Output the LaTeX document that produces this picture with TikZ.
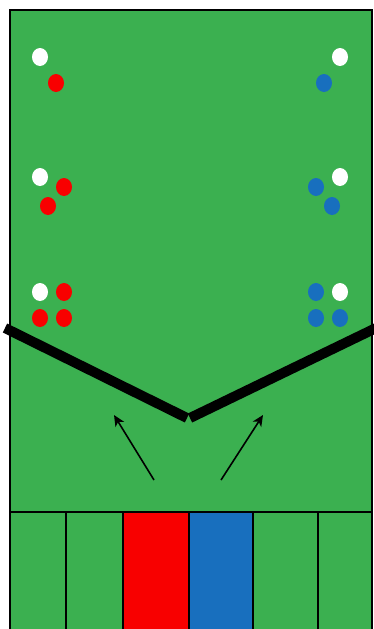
\documentclass[tikz,border=0pt]{standalone}
\usetikzlibrary{arrows.meta}
\definecolor{field}{RGB}{59,176,80}
\definecolor{redp}{RGB}{248,0,0}
\definecolor{bluep}{RGB}{24,111,190}
\tikzset{
  dot/.style={ellipse,inner sep=0pt,minimum width=16pt,minimum height=18pt,draw=none},
  wdot/.style={dot,fill=white},
  rdot/.style={dot,fill=redp},
  bdot/.style={dot,fill=bluep},
  lane/.style={draw=black,line width=1.5pt,inner sep=0pt,anchor=north west},
  wall/.style={line width=10pt,black},
  move/.style={line width=1.6pt,-{Stealth[length=11pt,width=10pt,inset=3pt]}}
}
\usetikzlibrary{shapes.geometric}
\begin{document}
\begin{tikzpicture}[x=1pt,y=-1pt]
\useasboundingbox (0,0) rectangle (373,629);
\fill[white] (0,0) rectangle (373,629);
\node[draw=black,line width=1.5pt,fill=field,inner sep=0pt,anchor=north west,minimum width=362pt,minimum height=625pt] (fieldbox) at (9,9) {};
% lanes
\node[lane,fill=field,minimum width=56pt,minimum height=120pt] (l1) at (9,511) {};
\node[lane,fill=field,minimum width=57pt,minimum height=120pt] (l2) at (65,511) {};
\node[lane,fill=redp,minimum width=66pt,minimum height=120pt] (l3) at (122,511) {};
\node[lane,fill=bluep,minimum width=64pt,minimum height=120pt] (l4) at (188,511) {};
\node[lane,fill=field,minimum width=65pt,minimum height=120pt] (l5) at (252,511) {};
\node[lane,fill=field,minimum width=54pt,minimum height=120pt] (l6) at (317,511) {};
% left dots
\node[wdot] (a1) at (40,57) {};
\node[rdot] (a2) at (56,83) {};
\node[wdot] (b1) at (40,177) {};
\node[rdot] (b2) at (64,187) {};
\node[rdot] (b3) at (48,206) {};
\node[wdot] (c1) at (40,292) {};
\node[rdot] (c2) at (64,292) {};
\node[rdot] (c3) at (40,318) {};
\node[rdot] (c4) at (64,318) {};
% right dots
\node[wdot] (d1) at (340,57) {};
\node[bdot] (d2) at (324,83) {};
\node[wdot] (e1) at (340,177) {};
\node[bdot] (e2) at (316,187) {};
\node[bdot] (e3) at (332,206) {};
\node[bdot] (f1) at (316,292) {};
\node[wdot] (f2) at (340,292) {};
\node[bdot] (f3) at (316,318) {};
\node[bdot] (f4) at (340,318) {};
% walls
\coordinate (wl1) at (5,328);
\coordinate (wl2) at (187,418);
\coordinate (wr1) at (190,418);
\coordinate (wr2) at (376,328);
\draw[wall] (wl1) -- (wl2);
\draw[wall] (wr1) -- (wr2);
% arrows
\coordinate (t1) at (154,480);
\coordinate (h1) at (114,415);
\coordinate (t2) at (221,480);
\coordinate (h2) at (263,415);
\draw[move] (t1) -- (h1);
\draw[move] (t2) -- (h2);
\end{tikzpicture}
\end{document}
